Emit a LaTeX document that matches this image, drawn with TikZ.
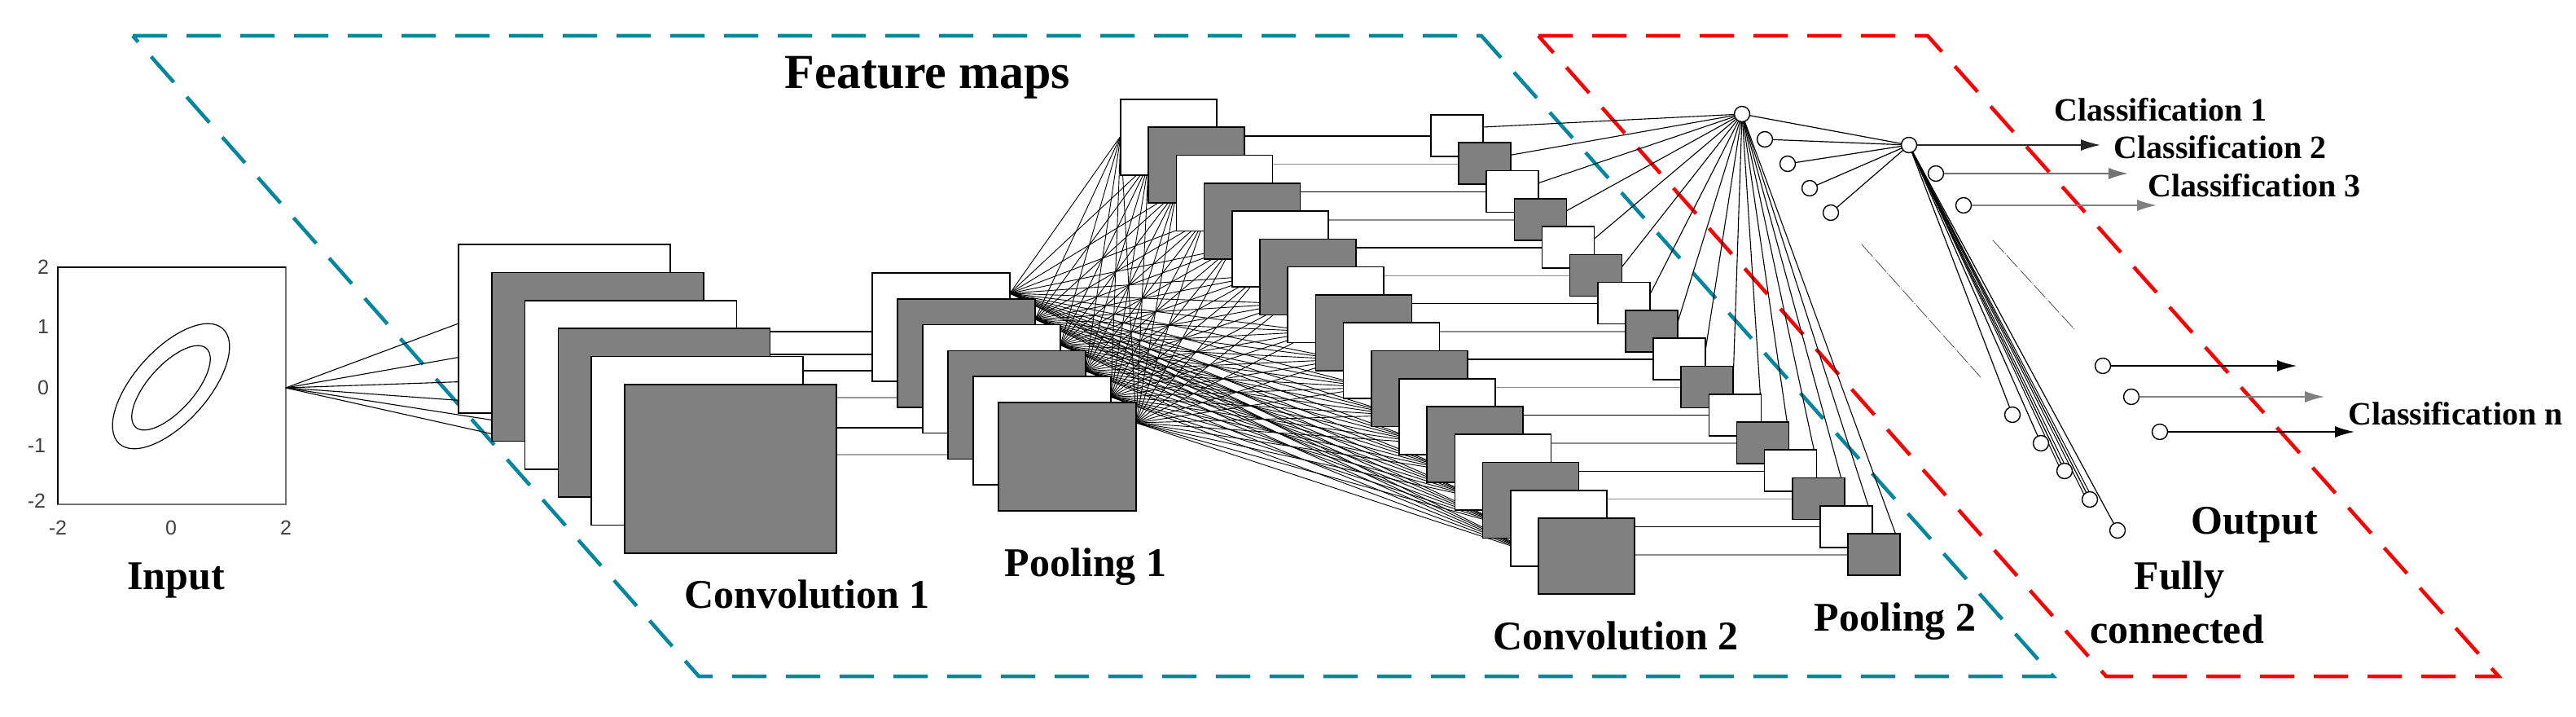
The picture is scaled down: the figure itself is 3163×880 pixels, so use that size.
\documentclass[tikz,border=0pt]{standalone}
\usepackage{fontspec}
\setmainfont{Liberation Serif}
\newfontfamily\axfont{Liberation Sans}
\usetikzlibrary{arrows.meta}
\definecolor{teal1}{RGB}{0,134,158}
\definecolor{red1}{RGB}{250,0,0}
\definecolor{sqgray}{RGB}{128,128,128}
\begin{document}
\begin{tikzpicture}[x=1pt,y=-1pt,
  sq/.style={draw,line width=1.6pt,rectangle,inner sep=0,outer sep=0,anchor=north west},
  wsq/.style={sq,fill=white},
  gsq/.style={sq,fill=sqgray},
  lab/.style={font=\fontsize{50}{50}\selectfont\bfseries},
  clab/.style={font=\fontsize{40}{40}\selectfont\bfseries},
  tick/.style={font=\axfont\fontsize{25}{25}\selectfont,text=black!75},
  thin/.style={line width=1.1pt},
  neuron/.style={circle,draw,line width=1.4pt,fill=white,minimum size=19pt,inner sep=0},
  frame/.style={dash pattern=on 42pt off 24pt,line width=4.5pt},
  arr/.style={line width=1.6pt,-{Latex[length=24pt,width=14pt]}},
  dotl/.style={line width=0.8pt,black!70,dash pattern=on 20pt off 2pt on 1pt off 2pt}]
\useasboundingbox (0,0) rectangle (3163,880);
% frames
\draw[frame,teal1] (163,44) -- (1819,44) -- (2521,830) -- (858,830) -- cycle;
\draw[frame,red1] (1889,44) -- (2367,44) -- (3068,830) -- (2586,830) -- cycle;
% input plot
\draw[line width=1.4pt,black!55] (71,328) rectangle (351,619);
\draw[line width=1.6pt] (71,619) -- (71,328) -- (351,328);
\draw[line width=1.2pt] (210,474) ellipse[x radius=95,y radius=45,rotate=48];
\draw[line width=1.2pt] (210,476) ellipse[x radius=65,y radius=28,rotate=48];
\foreach \v/\y in {2/328,1/401,0/476}{\node[tick] (ty\v) at (53,\y) {\v};}
\node[tick] (tym1) at (45,547) {-1};
\node[tick] (tym2) at (45,615) {-2};
\node[tick] (tx1) at (71,648) {-2};
\node[tick] (tx2) at (210,648) {0};
\node[tick] (tx3) at (351,648) {2};
\coordinate (in) at (351,476);
\node[lab] (tin) at (216,712) {Input};
% positions
\foreach \i in {1,...,6}{
  \pgfmathsetmacro{\cx}{563+40.8*(\i-1)}\pgfmathsetmacro{\cy}{300+34.4*(\i-1)}
  \coordinate (c1-\i) at (\cx,\cy);
  \pgfmathsetmacro{\px}{1071+31*(\i-1)}\pgfmathsetmacro{\py}{335+31.8*(\i-1)}
  \coordinate (p1-\i) at (\px,\py);
}
\foreach \j in {1,...,16}{
  \pgfmathsetmacro{\cx}{1376+34.2*(\j-1)}\pgfmathsetmacro{\cy}{122+34.27*(\j-1)}
  \coordinate (c2-\j) at (\cx,\cy);
  \pgfmathsetmacro{\px}{1757+34.13*(\j-1)}\pgfmathsetmacro{\py}{141+34.27*(\j-1)}
  \coordinate (p2-\j) at (\px,\py);
}
% neurons coordinates
\foreach \k/\x/\y in {1/2139/140,2/2167/171,3/2195/201,4/2222/231,5/2248/261,6/2471/509,7/2506/544,8/2535/578,9/2566/613,10/2600/651}{\coordinate (hc\k) at (\x,\y);}
\foreach \k/\x/\y in {1/2344/178,2/2377/213,3/2411/252,4/2582/449,5/2617/487,6/2652/530}{\coordinate (oc\k) at (\x,\y);}
% input fan
\foreach \i in {1,...,6}{\draw[thin] (in) -- ([yshift=-97pt]c1-\i);}
% conv1 -> pool1
\foreach \i/\y/\c in {1/407/black,2/435/black,3/455/black,4/488/black!40,5/525/black,6/558/black!35}{
  \draw[line width=1.4pt,\c] ([xshift=260pt]c1-\i |- 0,\y) -- (p1-\i |- 0,\y);}
% pool1 -> conv2
\foreach \i in {1,...,6}{\foreach \j in {1,...,16}{
  \draw[line width=0.9pt] ([xshift=169pt,yshift=-25pt]p1-\i) -- ([yshift=-45pt]c2-\j);}}
% conv2 -> pool2
\foreach \j in {1,...,16}{
  \pgfmathsetmacro{\g}{mod(\j,2)==1 ? 100 : 45}
  \draw[line width=1.4pt,black!\g] ([xshift=118pt,yshift=-26pt]p2-\j -| c2-\j) -- ([yshift=-26pt]p2-\j);}
% pool2 -> hidden hub
\foreach \j in {1,...,16}{\draw[line width=1.1pt] ([xshift=64pt,yshift=-15pt]p2-\j) -- (hc1);}
% hidden -> output hub
\foreach \k in {1,...,10}{\draw[line width=1.2pt] (hc\k) -- (oc1);}
\foreach \d in {-4,4}{\draw[line width=1pt] ([xshift=\d pt]hc8) -- (oc1); \draw[line width=1pt] ([xshift=\d pt]hc9) -- (oc1);}
% dots
\coordinate (d1a) at (2286,300); \coordinate (d1b) at (2432,463);
\coordinate (d2a) at (2447,295); \coordinate (d2b) at (2547,404);
\draw[dotl] (d1a) -- (d1b);
\draw[dotl] (d2a) -- (d2b);
% squares
\foreach \i in {1,...,6}{
  \pgfmathsetmacro{\s}{mod(\i,2)==1 ? "wsq" : "gsq"}
  \node[\s,minimum width=260pt,minimum height=207pt] (C1-\i) at (c1-\i) {};}
\foreach \i in {1,...,6}{
  \pgfmathsetmacro{\s}{mod(\i,2)==1 ? "wsq" : "gsq"}
  \node[\s,minimum width=169pt,minimum height=133pt] (P1-\i) at (p1-\i) {};}
\foreach \j in {1,...,16}{
  \pgfmathsetmacro{\s}{mod(\j,2)==1 ? "wsq" : "gsq"}
  \node[\s,minimum width=118pt,minimum height=93pt] (C2-\j) at (c2-\j) {};}
\foreach \j in {1,...,16}{
  \pgfmathsetmacro{\s}{mod(\j,2)==1 ? "wsq" : "gsq"}
  \node[\s,minimum width=64pt,minimum height=51pt] (P2-\j) at (p2-\j) {};}
% neurons
\foreach \k in {1,...,10}{\node[neuron] (h\k) at (hc\k) {};}
\foreach \k in {1,...,6}{\node[neuron] (o\k) at (oc\k) {};}
% output arrows
\foreach \k/\x/\c in {1/2579/black!85,2/2613/black!55,3/2648/black!50,4/2820/black,5/2854/black!50,6/2891/black}{
  \coordinate (e\k) at (\x,0 |- oc\k);
  \draw[arr,\c] (o\k) -- (e\k);}
% labels
\node[font=\fontsize{60}{60}\selectfont\bfseries] (tfm) at (1139,95) {Feature maps};
\node[lab] (tc1) at (991,729) {Convolution 1};
\node[lab] (tp1) at (1333,696) {Pooling 1};
\node[lab] (tc2) at (1984,780) {Convolution 2};
\node[lab] (tp2) at (2327,763) {Pooling 2};
\node[lab] (tfu) at (2676,712) {Fully};
\node[lab] (tco) at (2673,772) {connected};
\node[lab] (tou) at (2768,644) {Output};
\node[clab] (k1) at (2653,135) {Classification 1};
\node[clab] (k2) at (2726,181) {Classification 2};
\node[clab] (k3) at (2768,228) {Classification 3};
\node[clab] (kn) at (3015,508) {Classification n};
\end{tikzpicture}
\end{document}
